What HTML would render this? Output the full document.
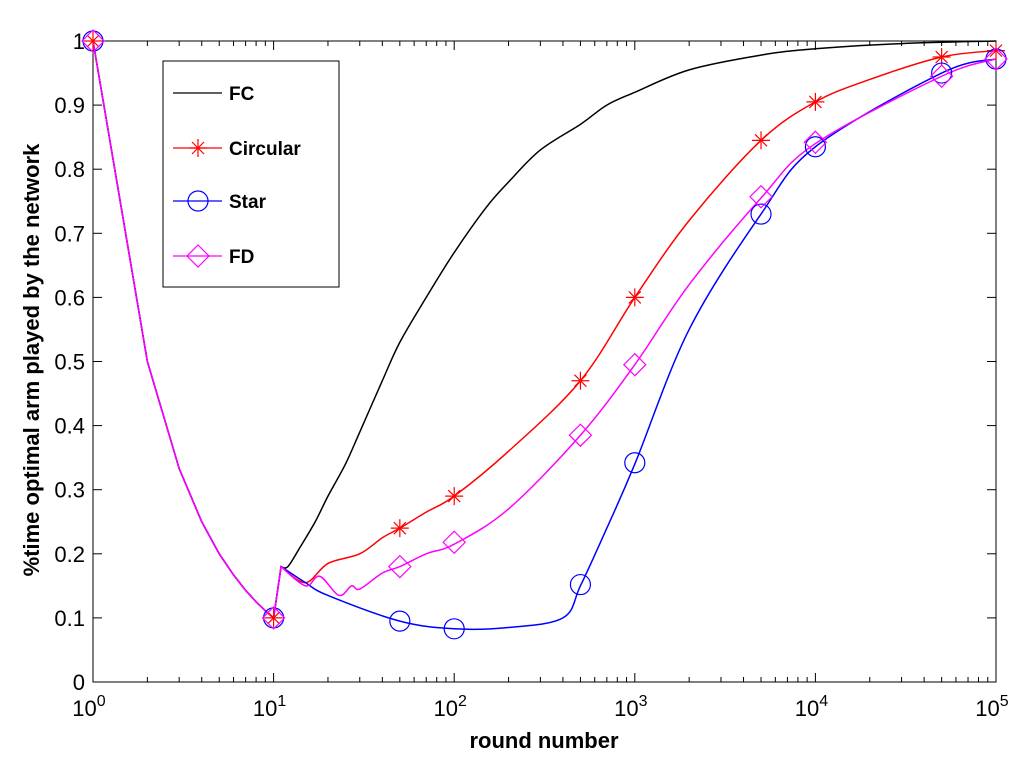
<!DOCTYPE html>
<html><head><meta charset="utf-8"><style>
body{margin:0;background:#fff;}
svg{font-family:"Liberation Sans",sans-serif;}
</style></head><body>
<svg id="chart" width="1031" height="773" viewBox="0 0 1031 773"></svg>
<script>
const NS='http://www.w3.org/2000/svg';
const xTickExps=[0,1,2,3,4,5];
const yTicks=[0,0.1,0.2,0.3,0.4,0.5,0.6,0.7,0.8,0.9,1];
const yTickLabels=['0','0.1','0.2','0.3','0.4','0.5','0.6','0.7','0.8','0.9','1'];
const earlyX=[1,2,3,4,5,6,7,8,9,10];
const earlyY=[1,0.5,0.333,0.25,0.2,0.167,0.143,0.125,0.111,0.1];
const fcX=[11,12,14,17,20,25,30,40,50,70,100,150,200,300,500,700,1000,2000,5000,10000,30000,100000];
const fcY=[0.18,0.18,0.21,0.25,0.29,0.34,0.39,0.47,0.53,0.6,0.67,0.74,0.78,0.83,0.87,0.9,0.92,0.955,0.978,0.988,0.996,1.0];
const circX=[11,15,20,30,40,50,70,100,200,500,1000,2000,5000,10000,20000,50000,100000];
const circY=[0.18,0.155,0.185,0.2,0.225,0.24,0.265,0.29,0.36,0.47,0.6,0.72,0.845,0.905,0.94,0.975,0.985];
const starX=[11,15,20,50,100,200,400,500,700,1000,2000,5000,10000,50000,100000];
const starY=[0.18,0.155,0.135,0.095,0.083,0.085,0.1,0.15,0.24,0.34,0.55,0.73,0.835,0.95,0.972];
const fdX=[11,15,18,23,27,30,40,50,70,100,200,500,1000,2000,5000,10000,50000,100000];
const fdY=[0.18,0.15,0.165,0.135,0.15,0.145,0.17,0.18,0.2,0.215,0.27,0.385,0.495,0.62,0.755,0.84,0.945,0.972];
const markX=[1,10,50,100,500,1000,5000,10000,50000,100000];
const circM=[1,0.1,0.24,0.29,0.47,0.6,0.845,0.905,0.975,0.985];
const starM=[1,0.1,0.095,0.083,0.152,0.342,0.73,0.835,0.95,0.972];
const fdM=[1,0.1,0.18,0.218,0.385,0.495,0.757,0.842,0.945,0.972];

const L=93,R=996,T=41,B=682;
const sx=v=>L+(Math.log10(v)/5)*(R-L);
const sy=v=>B-v*(B-T);
const svg=document.getElementById('chart');
function mk(tag,attrs,parent){const e=document.createElementNS(NS,tag);for(const k in attrs)e.setAttribute(k,attrs[k]);(parent||svg).appendChild(e);return e;}

const frame=mk('rect',{x:L,y:T,width:R-L,height:B-T,fill:'none',stroke:'#000','stroke-width':1});



for(let d=0;d<5;d++){for(let m=1;m<10;m++){const v=Math.pow(10,d)*m;const x=sx(v);const len=m===1?9:5;
mk('line',{x1:x,y1:B,x2:x,y2:B-len,stroke:'#000'});mk('line',{x1:x,y1:T,x2:x,y2:T+len,stroke:'#000'});}}
xTickExps.forEach(e=>{const x=sx(Math.pow(10,e));
const t=mk('text',{x:x-4,y:716,'font-size':22,'text-anchor':'middle'});


t.textContent='10';
const s=mk('tspan',{dy:-10,'font-size':16});s.textContent=e;t.appendChild(s);});
yTicks.forEach((v,i)=>{const y=sy(v);
mk('line',{x1:L,y1:y,x2:L+9,y2:y,stroke:'#000'});mk('line',{x1:R,y1:y,x2:R-9,y2:y,stroke:'#000'});
const t=mk('text',{x:L-8,y:y+8,'font-size':22,'text-anchor':'end'});


t.textContent=yTickLabels[i];});

const xl=mk('text',{x:544,y:748,'font-size':22,'font-weight':'bold','text-anchor':'middle'});


xl.textContent='round number';
const yl=mk('text',{x:0,y:0,'font-size':22,'font-weight':'bold','text-anchor':'middle',transform:'translate(39,360) rotate(-90)'});


yl.textContent='%time optimal arm played by the network';

function smooth(pts){let d='M'+pts[0][0]+','+pts[0][1];
for(let i=0;i<pts.length-1;i++){const p0=pts[Math.max(i-1,0)],p1=pts[i],p2=pts[i+1],p3=pts[Math.min(i+2,pts.length-1)];
const t=0.5/3;const c1=[p1[0]+(p2[0]-p0[0])*t,p1[1]+(p2[1]-p0[1])*t],c2=[p2[0]-(p3[0]-p1[0])*t,p2[1]-(p3[1]-p1[1])*t];
d+=` C${c1[0]},${c1[1]} ${c2[0]},${c2[1]} ${p2[0]},${p2[1]}`;}return d;}
function path(xs,ys,color,name){
const early=earlyX.map((x,i)=>sx(x)+','+sy(earlyY[i])).join(' L');
const pts=xs.map((x,i)=>[sx(x),sy(ys[i])]);
const p=mk('path',{d:'M'+early+' L'+smooth(pts).slice(1),fill:'none',stroke:color,'stroke-width':1.5});

}
function star(x,y,c,g){[[0,-9,0,9],[-9,0,9,0],[-6,-6,6,6],[-6,6,6,-6]].forEach(a=>mk('line',{x1:x+a[0],y1:y+a[1],x2:x+a[2],y2:y+a[3],stroke:c,'stroke-width':1.2},g));}
function circ(x,y,c,g){mk('circle',{cx:x,cy:y,r:10,fill:'none',stroke:c,'stroke-width':1.2},g);}
function diam(x,y,c,g){mk('polygon',{points:`${x},${y-11} ${x+11},${y} ${x},${y+11} ${x-11},${y}`,fill:'none',stroke:c,'stroke-width':1.2},g);}
function markers(ys,fn,c,name){const g=mk('g',{});


ys.forEach((v,i)=>fn(sx(markX[i]),sy(v),c,g));}

path(fcX,fcY,'#000','fc-line');
path(circX,circY,'#ff0000','circular-line');
path(starX,starY,'#0000ff','star-line');
path(fdX,fdY,'#ff00ff','fd-line');
markers(circM,star,'#ff0000','circular-markers');
markers(starM,circ,'#0000ff','star-markers');
markers(fdM,diam,'#ff00ff','fd-markers');

const lg=mk('g',{});


mk('rect',{x:163,y:61,width:176,height:226,fill:'#fff',stroke:'#000','stroke-width':1},lg);
const ent=[['FC','#000',null,93],['Circular','#ff0000',star,148],['Star','#0000ff',circ,201],['FD','#ff00ff',diam,256]];
ent.forEach(e=>{const g=mk('g',{},lg);


mk('line',{x1:173,y1:e[3],x2:222,y2:e[3],stroke:e[1],'stroke-width':1.2},g);
if(e[2])e[2](198,e[3],e[1],g);
const t=mk('text',{x:229,y:e[3]+7,'font-size':19,'font-weight':'bold'},g);t.textContent=e[0];});
</script>
</body></html>
